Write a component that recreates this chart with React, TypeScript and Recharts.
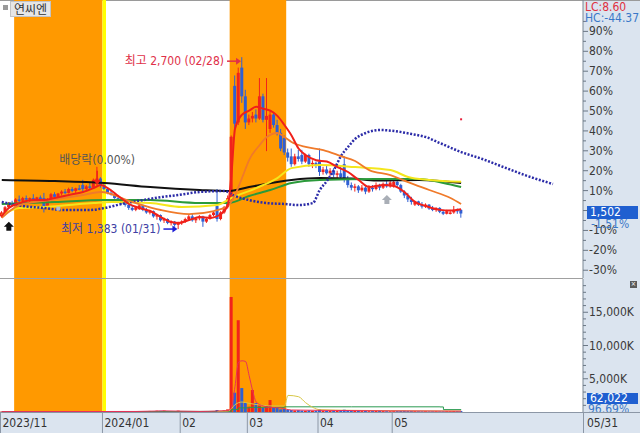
import React from 'react';
import {
  ComposedChart,
  Bar,
  Line,
  XAxis,
  YAxis,
  Cell,
  ReferenceArea,
  ReferenceDot,
} from 'recharts';

const FONT = "'Liberation Sans Narrow', 'DejaVu Sans Condensed', 'Noto Sans CJK KR', sans-serif";
const UP = '#f2231b';
const DOWN = '#2f5fd4';
const PANEL = '#dbe4ef';

// previous close, the 0% line of the right axis
const basePrice = 1525;

// [date, open, high, low, close]
const candles: [string, number, number, number, number][] = [
  ['2023-11-17', 1480, 1520, 1470, 1510],
  ['2023-11-20', 1510, 1560, 1500, 1550],
  ['2023-11-21', 1550, 1590, 1540, 1580],
  ['2023-11-22', 1580, 1600, 1555, 1570],
  ['2023-11-23', 1570, 1620, 1565, 1610],
  ['2023-11-24', 1610, 1640, 1590, 1600],
  ['2023-11-27', 1600, 1630, 1580, 1620],
  ['2023-11-28', 1620, 1640, 1600, 1610],
  ['2023-11-29', 1610, 1625, 1590, 1620],
  ['2023-11-30', 1620, 1650, 1600, 1610],
  ['2023-12-01', 1610, 1630, 1595, 1625],
  ['2023-12-04', 1625, 1640, 1600, 1605],
  ['2023-12-05', 1620, 1660, 1510, 1560],
  ['2023-12-06', 1560, 1620, 1550, 1610],
  ['2023-12-07', 1610, 1660, 1600, 1650],
  ['2023-12-08', 1650, 1665, 1620, 1630],
  ['2023-12-11', 1630, 1660, 1625, 1655],
  ['2023-12-12', 1655, 1680, 1640, 1670],
  ['2023-12-13', 1670, 1690, 1650, 1660],
  ['2023-12-14', 1660, 1700, 1655, 1690],
  ['2023-12-15', 1690, 1705, 1665, 1675],
  ['2023-12-18', 1675, 1700, 1660, 1695],
  ['2023-12-19', 1695, 1720, 1680, 1685],
  ['2023-12-20', 1720, 1760, 1660, 1690],
  ['2023-12-21', 1690, 1720, 1680, 1710],
  ['2023-12-22', 1710, 1740, 1690, 1700],
  ['2023-12-26', 1700, 1770, 1695, 1760],
  ['2023-12-27', 1730, 1860, 1715, 1770],
  ['2023-12-28', 1770, 1780, 1700, 1720],
  ['2024-01-02', 1720, 1740, 1680, 1690],
  ['2024-01-03', 1690, 1700, 1650, 1660],
  ['2024-01-04', 1660, 1680, 1640, 1650],
  ['2024-01-05', 1650, 1660, 1615, 1620],
  ['2024-01-08', 1620, 1640, 1600, 1610],
  ['2024-01-09', 1610, 1625, 1570, 1580],
  ['2024-01-10', 1580, 1600, 1555, 1570],
  ['2024-01-11', 1570, 1580, 1530, 1545],
  ['2024-01-12', 1545, 1560, 1520, 1530],
  ['2024-01-15', 1530, 1560, 1520, 1550],
  ['2024-01-16', 1535, 1575, 1530, 1565],
  ['2024-01-17', 1565, 1570, 1520, 1530],
  ['2024-01-18', 1530, 1545, 1500, 1510],
  ['2024-01-19', 1510, 1530, 1495, 1520],
  ['2024-01-22', 1520, 1525, 1470, 1480],
  ['2024-01-23', 1480, 1500, 1455, 1490],
  ['2024-01-24', 1490, 1495, 1440, 1450],
  ['2024-01-25', 1450, 1470, 1430, 1460],
  ['2024-01-26', 1460, 1465, 1420, 1430],
  ['2024-01-29', 1430, 1450, 1410, 1440],
  ['2024-01-30', 1440, 1445, 1400, 1415],
  ['2024-01-31', 1415, 1440, 1383, 1430],
  ['2024-02-01', 1430, 1450, 1415, 1440],
  ['2024-02-02', 1440, 1470, 1430, 1460],
  ['2024-02-05', 1460, 1490, 1445, 1480],
  ['2024-02-06', 1480, 1500, 1440, 1450],
  ['2024-02-07', 1450, 1470, 1430, 1465],
  ['2024-02-08', 1465, 1490, 1450, 1480],
  ['2024-02-13', 1480, 1485, 1400, 1440],
  ['2024-02-14', 1440, 1470, 1430, 1460],
  ['2024-02-15', 1460, 1500, 1455, 1490],
  ['2024-02-16', 1490, 1520, 1480, 1510],
  ['2024-02-19', 1560, 1690, 1440, 1460],
  ['2024-02-20', 1460, 1520, 1450, 1510],
  ['2024-02-21', 1510, 1560, 1500, 1550],
  ['2024-02-22', 1550, 1640, 1540, 1620],
  ['2024-02-23', 1620, 2100, 1600, 2090],
  ['2024-02-26', 2480, 2560, 2150, 2190],
  ['2024-02-27', 2200, 2620, 2180, 2580],
  ['2024-02-28', 2620, 2700, 2350, 2400],
  ['2024-02-29', 2400, 2450, 2150, 2200],
  ['2024-03-04', 2200, 2260, 2180, 2230],
  ['2024-03-05', 2230, 2280, 2200, 2250],
  ['2024-03-06', 2260, 2300, 2200, 2230],
  ['2024-03-07', 2230, 2540, 2220, 2400],
  ['2024-03-08', 2400, 2420, 2200, 2220],
  ['2024-03-11', 2220, 2540, 1980, 2250],
  ['2024-03-12', 2150, 2290, 2120, 2260],
  ['2024-03-13', 2260, 2280, 2160, 2180],
  ['2024-03-14', 2180, 2220, 2100, 2120],
  ['2024-03-15', 2120, 2150, 1980, 2000],
  ['2024-03-18', 2080, 2100, 1950, 1970],
  ['2024-03-19', 1970, 2000, 1900, 1930],
  ['2024-03-20', 1940, 2000, 1860, 1880],
  ['2024-03-21', 1880, 1960, 1870, 1940],
  ['2024-03-22', 1940, 1990, 1900, 1920],
  ['2024-03-25', 1950, 1990, 1880, 1900],
  ['2024-03-26', 1900, 1960, 1890, 1950],
  ['2024-03-27', 1950, 1960, 1860, 1880],
  ['2024-03-28', 1880, 1910, 1850, 1890],
  ['2024-03-29', 1890, 1900, 1850, 1870],
  ['2024-04-01', 1900, 2000, 1790, 1820],
  ['2024-04-02', 1820, 1860, 1800, 1840],
  ['2024-04-03', 1840, 1870, 1800, 1810],
  ['2024-04-04', 1810, 1850, 1790, 1830],
  ['2024-04-05', 1830, 1850, 1780, 1800],
  ['2024-04-08', 1800, 1830, 1770, 1810],
  ['2024-04-09', 1810, 1860, 1760, 1780],
  ['2024-04-11', 1880, 1940, 1740, 1770],
  ['2024-04-12', 1770, 1790, 1700, 1720],
  ['2024-04-15', 1720, 1740, 1680, 1700],
  ['2024-04-16', 1700, 1730, 1670, 1710],
  ['2024-04-17', 1710, 1720, 1660, 1680],
  ['2024-04-18', 1680, 1720, 1670, 1700],
  ['2024-04-19', 1700, 1710, 1650, 1670],
  ['2024-04-22', 1670, 1720, 1660, 1700],
  ['2024-04-23', 1700, 1720, 1670, 1690],
  ['2024-04-24', 1690, 1740, 1680, 1720],
  ['2024-04-25', 1720, 1730, 1680, 1700],
  ['2024-04-26', 1700, 1740, 1690, 1730],
  ['2024-04-29', 1730, 1750, 1700, 1710],
  ['2024-04-30', 1710, 1760, 1700, 1740],
  ['2024-05-02', 1710, 1760, 1700, 1745],
  ['2024-05-03', 1745, 1760, 1700, 1720],
  ['2024-05-07', 1720, 1730, 1660, 1670],
  ['2024-05-08', 1670, 1680, 1620, 1640],
  ['2024-05-09', 1640, 1660, 1590, 1610],
  ['2024-05-10', 1610, 1630, 1570, 1590],
  ['2024-05-13', 1570, 1600, 1560, 1595],
  ['2024-05-14', 1595, 1600, 1560, 1570],
  ['2024-05-16', 1570, 1590, 1540, 1555],
  ['2024-05-17', 1555, 1580, 1545, 1570],
  ['2024-05-20', 1570, 1575, 1530, 1540],
  ['2024-05-21', 1540, 1560, 1520, 1530],
  ['2024-05-22', 1530, 1550, 1515, 1545],
  ['2024-05-23', 1545, 1550, 1505, 1515],
  ['2024-05-24', 1515, 1530, 1490, 1500],
  ['2024-05-27', 1500, 1530, 1495, 1520],
  ['2024-05-28', 1500, 1530, 1495, 1510],
  ['2024-05-29', 1510, 1560, 1500, 1530],
  ['2024-05-30', 1530, 1540, 1500, 1525],
  ['2024-05-31', 1530, 1535, 1470, 1502],
];

// volume, thousand shares, same order as candles
const volumes = [
  60, 80, 70, 50, 60, 40, 50, 40, 45, 50, 40, 45, 120, 60, 80, 50, 45, 60, 50, 70,
  55, 60, 50, 90, 55, 50, 70, 140, 80,
  70, 60, 50, 55, 45, 60, 50, 60, 45, 120, 150, 70, 80, 160, 90, 200, 180, 220, 80, 70, 60, 210,
  90, 70, 80, 60, 50, 60, 130, 50, 60, 80, 300, 150, 260, 400,
  17300, 2900, 13800, 3600, 1350, 800, 3300, 1350, 1000, 600, 1000, 1800, 600, 700, 400, 450,
  350, 300, 250, 280, 220, 200, 250, 180, 200, 400, 200, 180, 150, 170, 160, 180, 350, 250, 200, 150,
  160, 140, 150, 130, 140, 150, 170, 140, 130, 120, 130, 140, 150, 180, 160, 140, 130, 120, 110, 120,
  100, 110, 120, 100, 110, 130, 120, 150, 140, 160,
];

// empty slots on the right where the shifted line runs on
const futureDates = [
  '2024-06-03', '2024-06-04', '2024-06-05', '2024-06-07', '2024-06-10', '2024-06-11', '2024-06-12',
  '2024-06-13', '2024-06-14', '2024-06-17', '2024-06-18', '2024-06-19', '2024-06-20', '2024-06-21',
  '2024-06-24', '2024-06-25', '2024-06-26', '2024-06-27', '2024-06-28', '2024-07-01', '2024-07-02',
  '2024-07-03', '2024-07-04', '2024-07-05', '2024-07-08', '2024-07-09', '2024-07-10', '2024-07-11',
  '2024-07-12', '2024-07-15', '2024-07-16', '2024-07-17', '2024-07-18', '2024-07-19',
];

// moving average lines, read at a few dates each
const redLine: [string, number][] = [
  ['2023-11-17', 1483], ['2023-11-21', 1544], ['2023-11-24', 1582], ['2023-11-30', 1605],
  ['2023-12-05', 1605], ['2023-12-08', 1621], ['2023-12-14', 1644], ['2023-12-20', 1667],
  ['2023-12-26', 1697], ['2023-12-28', 1720], ['2024-01-03', 1697], ['2024-01-08', 1636],
  ['2024-01-11', 1575], ['2024-01-16', 1544], ['2024-01-19', 1521], ['2024-01-24', 1475],
  ['2024-01-29', 1437], ['2024-01-31', 1429], ['2024-02-05', 1452], ['2024-02-08', 1475],
  ['2024-02-15', 1468], ['2024-02-20', 1498], ['2024-02-22', 1567], ['2024-02-23', 1800],
  ['2024-02-26', 2150], ['2024-02-28', 2260], ['2024-03-04', 2290], ['2024-03-06', 2320],
  ['2024-03-08', 2305], ['2024-03-12', 2290], ['2024-03-14', 2250], ['2024-03-18', 2180],
  ['2024-03-20', 2100], ['2024-03-22', 2000], ['2024-03-26', 1950], ['2024-03-29', 1910],
  ['2024-04-03', 1900], ['2024-04-08', 1858], ['2024-04-12', 1820], ['2024-04-17', 1759],
  ['2024-04-22', 1705], ['2024-04-26', 1720], ['2024-05-02', 1713], ['2024-05-08', 1665],
  ['2024-05-13', 1590], ['2024-05-17', 1560], ['2024-05-23', 1530], ['2024-05-28', 1525],
  ['2024-05-31', 1535],
];

const orangeLine: [string, number][] = [
  ['2023-11-17', 1468], ['2023-11-24', 1567], ['2023-12-07', 1605], ['2023-12-20', 1644],
  ['2023-12-28', 1667], ['2024-01-12', 1590], ['2024-01-24', 1529], ['2024-02-05', 1498],
  ['2024-02-16', 1521], ['2024-02-22', 1559], ['2024-02-26', 1644], ['2024-02-28', 1774],
  ['2024-03-04', 1912], ['2024-03-07', 2027], ['2024-03-11', 2088], ['2024-03-14', 2119],
  ['2024-03-18', 2088], ['2024-03-20', 2050], ['2024-03-26', 2012], ['2024-04-02', 1988],
  ['2024-04-09', 1942], ['2024-04-16', 1904], ['2024-04-22', 1835], ['2024-04-30', 1797],
  ['2024-05-09', 1743], ['2024-05-20', 1682], ['2024-05-28', 1621], ['2024-05-31', 1575],
];

const yellowLine: [string, number][] = [
  ['2023-11-17', 1491], ['2023-11-24', 1544], ['2023-12-05', 1552], ['2023-12-14', 1567],
  ['2023-12-26', 1582], ['2024-01-04', 1590], ['2024-01-19', 1582], ['2024-02-01', 1552],
  ['2024-02-19', 1567], ['2024-02-23', 1621], ['2024-03-06', 1697], ['2024-03-14', 1774],
  ['2024-03-20', 1850], ['2024-04-01', 1874], ['2024-04-16', 1858], ['2024-04-30', 1835],
  ['2024-05-09', 1782], ['2024-05-20', 1759], ['2024-05-31', 1745],
];

const greenLine: [string, number][] = [
  ['2023-11-17', 1575], ['2023-12-08', 1590], ['2024-01-02', 1605], ['2024-01-19', 1605],
  ['2024-02-08', 1582], ['2024-02-22', 1582], ['2024-03-04', 1636], ['2024-03-12', 1682],
  ['2024-03-20', 1736], ['2024-04-01', 1759], ['2024-04-24', 1766], ['2024-05-14', 1766],
  ['2024-05-24', 1736], ['2024-05-31', 1705],
];

const blackLine: [string, number][] = [
  ['2023-11-17', 1759], ['2023-12-08', 1751], ['2024-01-02', 1736], ['2024-01-19', 1705],
  ['2024-02-08', 1682], ['2024-02-22', 1674], ['2024-03-04', 1705], ['2024-03-20', 1759],
  ['2024-04-01', 1774], ['2024-04-15', 1770], ['2024-04-24', 1755], ['2024-05-14', 1759],
  ['2024-05-31', 1736],
];

// navy dotted line, shifted ahead into the empty slots
const blueDots: [string, number][] = [
  ['2023-11-17', 1590], ['2023-11-27', 1559], ['2023-12-05', 1544], ['2023-12-12', 1529],
  ['2023-12-22', 1529], ['2024-01-02', 1544], ['2024-01-10', 1582], ['2024-01-17', 1605],
  ['2024-01-24', 1628], ['2024-01-31', 1644], ['2024-02-08', 1667], ['2024-02-21', 1674],
  ['2024-02-26', 1636], ['2024-03-04', 1605], ['2024-03-11', 1582], ['2024-03-18', 1575],
  ['2024-03-22', 1567], ['2024-03-28', 1582], ['2024-04-01', 1682], ['2024-04-03', 1751],
  ['2024-04-05', 1835], ['2024-04-09', 1942], ['2024-04-12', 2012], ['2024-04-16', 2073],
  ['2024-04-19', 2119], ['2024-04-25', 2142], ['2024-05-02', 2134], ['2024-05-10', 2111],
  ['2024-05-17', 2088], ['2024-05-23', 2042], ['2024-05-31', 1973], ['2024-06-11', 1920],
  ['2024-06-19', 1858], ['2024-06-27', 1797], ['2024-07-09', 1728],
];

// volume moving averages (thousand shares)
const volRed: [string, number][] = [
  ['2023-11-17', 60], ['2024-01-15', 80], ['2024-01-25', 170], ['2024-02-08', 80],
  ['2024-02-19', 150], ['2024-02-22', 200], ['2024-02-23', 700], ['2024-02-26', 3800],
  ['2024-02-27', 7500], ['2024-02-28', 7700], ['2024-02-29', 7600], ['2024-03-04', 5500],
  ['2024-03-05', 3200], ['2024-03-06', 1500], ['2024-03-08', 900], ['2024-03-12', 700],
  ['2024-03-15', 600], ['2024-03-20', 300], ['2024-04-01', 250], ['2024-05-31', 130],
];

const volYellow: [string, number][] = [
  ['2024-02-19', 100], ['2024-02-22', 150], ['2024-02-23', 500], ['2024-02-26', 1100],
  ['2024-02-28', 1500], ['2024-03-04', 1300], ['2024-03-08', 1000], ['2024-03-13', 900],
  ['2024-03-18', 900], ['2024-03-19', 2500], ['2024-03-22', 2300], ['2024-03-26', 1400],
  ['2024-03-28', 700], ['2024-04-01', 350], ['2024-04-15', 250], ['2024-05-31', 150],
];

const volGreen: [string, number][] = [
  ['2023-11-17', 70], ['2024-01-31', 90], ['2024-02-22', 100], ['2024-02-23', 390],
  ['2024-02-27', 620], ['2024-03-04', 700], ['2024-03-18', 780], ['2024-04-15', 780],
  ['2024-05-23', 760], ['2024-05-24', 360], ['2024-05-31', 340],
];

// right axis ticks, percent from previous close
const pctTicks = [
  -30, -25, -20, -15, -10, -5, 0, 5, 10, 15, 20, 25, 30, 35, 40, 45, 50, 55, 60, 65, 70, 75, 80, 85, 90, 95,
];
const volTicks = [
  1000, 2000, 3000, 4000, 5000, 6000, 7000, 8000, 9000, 10000, 11000, 12000, 13000, 14000, 15000,
  16000, 17000, 18000, 19000,
];
const monthTicks: [string, string][] = [
  ['2023-11-17', '2023/11'],
  ['2024-01-02', '2024/01'],
  ['2024-02-01', '02'],
  ['2024-03-04', '03'],
  ['2024-04-01', '04'],
  ['2024-05-02', '05'],
];

const lineSets: [string, [string, number][]][] = [
  ['red', redLine], ['orange', orangeLine], ['yellow', yellowLine], ['green', greenLine],
  ['black', blackLine], ['dots', blueDots], ['vRed', volRed], ['vYellow', volYellow], ['vGreen', volGreen],
];
const lineMaps = lineSets.map(([k, pts]) => [k, new Map(pts)] as const);

const allDates = [...candles.map((c) => c[0]), ...futureDates];
const rows = allDates.map((date, i) => {
  const c = candles[i];
  const row: any = { date };
  if (c) {
    row.open = c[1];
    row.high = c[2];
    row.low = c[3];
    row.close = c[4];
    row.range = [c[3], c[2]];
    row.vol = volumes[i];
  }
  lineMaps.forEach(([k, m]) => {
    row[k] = m.has(date) ? m.get(date) : null;
  });
  return row;
});

const PLOT_W = 583;
const slot = PLOT_W / allDates.length;
const monthLabel = new Map(monthTicks);

const hiCandle = candles.reduce((a, b) => (b[2] > a[2] ? b : a));
const loCandle = candles.reduce((a, b) => (b[3] < a[3] ? b : a));
const fmt = (n: number) => n.toLocaleString('en-US');
const mmdd = (d: string) => `${d.slice(5, 7)}/${d.slice(8, 10)}`;
const lastClose = candles[candles.length - 1][4];

const Candle = (props: any) => {
  const { x, y, width, height, payload } = props;
  if (!payload || payload.open == null) return <g />;
  const top = Math.min(y, y + height);
  const bottom = Math.max(y, y + height);
  const span = payload.high - payload.low || 1;
  const py = (v: number) => top + ((payload.high - v) / span) * (bottom - top);
  const color = payload.close >= payload.open ? UP : DOWN;
  const cx = x + width / 2;
  const bt = py(Math.max(payload.open, payload.close));
  const bb = py(Math.min(payload.open, payload.close));
  return (
    <g>
      <line x1={cx} x2={cx} y1={top} y2={bottom} stroke={color} strokeWidth={1} />
      <rect x={x} y={bt} width={width} height={Math.max(1.5, bb - bt)} fill={color} />
    </g>
  );
};

const PriceTick = (props: any) => {
  const { x, y, payload } = props;
  const p = Math.round((payload.value / basePrice - 1) * 100);
  const major = p % 10 === 0 && p <= 90;
  return (
    <g>
      <line x1={x} x2={x + (major ? 5 : 3)} y1={y} y2={y} stroke="#6b7785" />
      {major && (
        <text x={x + 6} y={y + 4} fontSize={12} fill="#3a3a3a" fontFamily={FONT}>
          {p}%
        </text>
      )}
    </g>
  );
};

const VolTick = (props: any) => {
  const { x, y, payload } = props;
  const v = payload.value;
  const major = v % 5000 === 0;
  return (
    <g>
      <line x1={x} x2={x + (major ? 5 : 3)} y1={y} y2={y} stroke="#6b7785" />
      {major && (
        <text x={x + 6} y={y + 4} fontSize={12} fill="#3a3a3a" fontFamily={FONT}>
          {fmt(v)}K
        </text>
      )}
    </g>
  );
};

const DateTick = (props: any) => {
  const { x, y, payload } = props;
  const label = monthLabel.get(payload.value);
  if (!label) return <g />;
  const left = Math.max(0.5, x - slot / 2);
  return (
    <g>
      <line x1={left} x2={left} y1={y} y2={y + 21} stroke="#8c97a6" />
      <text x={left + 2} y={y + 15} fontSize={12} fill="#333" fontFamily={FONT}>
        {label}
      </text>
    </g>
  );
};

const HighMark = ({ cx, cy }: any) => (
  <g fontFamily={FONT} fontSize={12}>
    <text x={cx - 18} y={cy + 8} textAnchor="end" fill="#e03048">
      최고 {fmt(hiCandle[2])} ({mmdd(hiCandle[0])})
    </text>
    <line x1={cx - 15} x2={cx - 5} y1={cy + 4} y2={cy + 4} stroke="#e03048" strokeWidth={1.5} />
    <path d={`M${cx - 1},${cy + 4} l-5,-3.5 v7 z`} fill="#e03048" />
  </g>
);

const LowMark = ({ cx, cy }: any) => (
  <g fontFamily={FONT} fontSize={12}>
    <text x={cx - 18} y={cy + 4} textAnchor="end" fill="#4040a4">
      최저 {fmt(loCandle[3])} ({mmdd(loCandle[0])})
    </text>
    <line x1={cx - 15} x2={cx - 5} y1={cy} y2={cy} stroke="#1c1cd6" strokeWidth={1.5} />
    <path d={`M${cx - 1},${cy} l-5,-3.5 v7 z`} fill="#1c1cd6" />
  </g>
);

const ExDivMark = ({ cx, cy }: any) => (
  <g fontFamily={FONT} fontSize={12}>
    <text x={cx} y={cy - 3} textAnchor="middle" fill="#555">
      배당락(0.00%)
    </text>
    <line x1={cx} x2={cx} y1={cy + 4} y2={cy + 14} stroke="#f0201a" strokeWidth={1.5} />
    <path d={`M${cx},${cy + 18} l-4,-5 h8 z`} fill="#f0201a" />
  </g>
);

const UpArrow = (color: string) => ({ cx, cy }: any) => (
  <path d={`M${cx},${cy - 5} l5,5 h-2.5 v4 h-5 v-4 h-2.5 z`} fill={color} />
);

const SquareMark = ({ cx, cy }: any) => <rect x={cx - 2} y={cy - 2} width={4} height={4} fill="#b4bccb" />;
const RedDot = ({ cx, cy }: any) => <rect x={cx - 1} y={cy - 1} width={2} height={2} fill="#e8203a" />;

const lineProps = {
  dot: false,
  activeDot: false,
  connectNulls: true,
  type: 'monotone' as const,
  isAnimationActive: false,
};

export default function App() {
  return (
    <div
      style={{
        position: 'absolute',
        left: 0,
        top: 0,
        width: 640,
        height: 433,
        background: '#fff',
        fontFamily: FONT,
        overflow: 'hidden',
      }}
    >
      {/* right axis and date axis panels */}
      <div style={{ position: 'absolute', left: 583, top: 0, width: 57, height: 433, background: PANEL }} />
      <div
        style={{
          position: 'absolute',
          left: 0,
          top: 412,
          width: 640,
          height: 21,
          background: PANEL,
          borderTop: '1px solid #8c97a6',
          boxSizing: 'border-box',
        }}
      />
      <div style={{ position: 'absolute', left: 0, top: 0, width: 640, height: 1, background: '#9a9a9a' }} />

      <div style={{ position: 'absolute', left: 0, top: 0 }}>
        <ComposedChart width={640} height={278} data={rows} margin={{ top: 0, right: 0, left: 0, bottom: 0 }} barSize={3}>
          <ReferenceArea x1="2023-11-23" x2="2023-12-28" fill="#ff9900" fillOpacity={1} stroke="none" />
          <ReferenceArea x1="2024-01-02" x2="2024-01-02" fill="#ffff00" fillOpacity={1} stroke="none" />
          <ReferenceArea x1="2024-02-23" x2="2024-03-18" fill="#ff9900" fillOpacity={1} stroke="none" />
          <XAxis dataKey="date" hide />
          <YAxis
            orientation="right"
            width={57}
            domain={[1008, 3138]}
            ticks={pctTicks.map((p) => basePrice * (1 + p / 100))}
            interval={0}
            tick={PriceTick}
            tickLine={false}
            tickSize={0}
            tickMargin={0}
            axisLine={{ stroke: '#7b8794' }}
            allowDataOverflow
          />
          <Line dataKey="black" stroke="#111" strokeWidth={2} {...lineProps} />
          <Line dataKey="green" stroke="#2b9a3a" strokeWidth={2} {...lineProps} />
          <Line dataKey="yellow" stroke="#f4e61c" strokeWidth={2} {...lineProps} />
          <Line dataKey="dots" stroke="#2c2ca8" strokeWidth={2.5} strokeDasharray="2 1.6" {...lineProps} />
          <Bar dataKey="range" shape={Candle} isAnimationActive={false} />
          <Line dataKey="orange" stroke="#f07a2a" strokeWidth={1.8} {...lineProps} />
          <Line dataKey="red" stroke="#f0201a" strokeWidth={2} {...lineProps} />
          <ReferenceDot x={hiCandle[0]} y={hiCandle[2]} r={0} shape={HighMark} />
          <ReferenceDot x={loCandle[0]} y={loCandle[3]} r={0} shape={LowMark} />
          <ReferenceDot x="2023-12-27" y={1860} r={0} shape={ExDivMark} />
          <ReferenceDot x="2023-11-21" y={1400} r={0} shape={UpArrow('#111')} />
          <ReferenceDot x="2024-04-29" y={1605} r={0} shape={UpArrow('#a9aeb6')} />
          <ReferenceDot x="2023-12-11" y={1540} r={0} shape={SquareMark} />
          <ReferenceDot x="2024-05-31" y={2224} r={0} shape={RedDot} />
        </ComposedChart>
      </div>

      <div style={{ position: 'absolute', left: 0, top: 278, width: 583, height: 1, background: '#a0a0a0' }} />

      <div style={{ position: 'absolute', left: 0, top: 279 }}>
        <ComposedChart width={640} height={154} data={rows} margin={{ top: 0, right: 0, left: 0, bottom: 0 }} barSize={3}>
          <ReferenceArea x1="2023-11-23" x2="2023-12-28" fill="#ff9900" fillOpacity={1} stroke="none" />
          <ReferenceArea x1="2024-01-02" x2="2024-01-02" fill="#ffff00" fillOpacity={1} stroke="none" />
          <ReferenceArea x1="2024-02-23" x2="2024-03-18" fill="#ff9900" fillOpacity={1} stroke="none" />
          <XAxis
            dataKey="date"
            height={21}
            interval={0}
            tick={DateTick}
            tickLine={false}
            axisLine={false}
            tickSize={0}
            tickMargin={0}
          />
          <YAxis
            orientation="right"
            width={57}
            domain={[0, 20000]}
            ticks={volTicks}
            interval={0}
            tick={VolTick}
            tickLine={false}
            tickSize={0}
            tickMargin={0}
            axisLine={{ stroke: '#7b8794' }}
          />
          <Bar dataKey="vol" isAnimationActive={false}>
            {rows.map((r, i) => (
              <Cell key={i} fill={r.close >= r.open ? UP : DOWN} />
            ))}
          </Bar>
          <Line dataKey="vGreen" stroke="#2a9a50" strokeWidth={1} {...lineProps} type="stepAfter" />
          <Line dataKey="vYellow" stroke="#d8c848" strokeWidth={1} {...lineProps} />
          <Line dataKey="vRed" stroke="#e8305a" strokeWidth={1} {...lineProps} />
        </ComposedChart>
      </div>

      {/* title */}
      <div style={{ position: 'absolute', left: 3, top: 5, width: 5, height: 5, background: '#9a9a9a' }} />
      <div
        style={{
          position: 'absolute',
          left: 10,
          top: 1,
          padding: '0 3px',
          height: 14,
          lineHeight: '14px',
          fontSize: 12,
          color: '#333',
          background: '#e6e6e6',
          border: '1px solid #c4c4c4',
          fontFamily: "'Noto Sans CJK KR', sans-serif",
        }}
      >
        연씨엔
      </div>

      {/* right side read-outs */}
      <div style={{ position: 'absolute', left: 585, top: 2, fontSize: 12, lineHeight: '11px', color: '#e03040' }}>
        LC:{((lastClose / loCandle[3] - 1) * 100).toFixed(2)}
      </div>
      <div style={{ position: 'absolute', left: 585, top: 13, fontSize: 12, lineHeight: '11px', color: '#3a78c8' }}>
        HC:{((lastClose / hiCandle[2] - 1) * 100).toFixed(2)}
      </div>
      <div
        style={{
          position: 'absolute',
          left: 587,
          top: 206,
          width: 51,
          height: 13,
          lineHeight: '13px',
          fontSize: 12,
          color: '#fff',
          background: '#1f5fd0',
          paddingLeft: 3,
          boxSizing: 'border-box',
        }}
      >
        {fmt(lastClose)}
      </div>
      <div style={{ position: 'absolute', left: 591, top: 219, fontSize: 12, lineHeight: '11px', color: '#3a78c8' }}>
        {((lastClose / basePrice - 1) * 100).toFixed(2)}%
      </div>
      <div
        style={{
          position: 'absolute',
          left: 587,
          top: 393,
          width: 51,
          height: 11,
          lineHeight: '11px',
          fontSize: 12,
          color: '#fff',
          background: '#1f5fd0',
          paddingLeft: 3,
          boxSizing: 'border-box',
        }}
      >
        62,022
      </div>
      <div style={{ position: 'absolute', left: 588, top: 404, fontSize: 12, lineHeight: '10px', color: '#3a78c8', height: 8, overflow: 'hidden' }}>
        96.69%
      </div>
      <div
        style={{
          position: 'absolute',
          left: 630,
          top: 281,
          width: 7,
          height: 7,
          background: '#5a5a5a',
          color: '#fff',
          fontSize: 7,
          lineHeight: '7px',
          textAlign: 'center',
        }}
      >
        ×
      </div>
      <div style={{ position: 'absolute', left: 583, top: 412, width: 1, height: 21, background: '#8c97a6' }} />
      <div style={{ position: 'absolute', left: 587, top: 415, fontSize: 12, lineHeight: '16px', color: '#333' }}>
        05/31
      </div>
    </div>
  );
}
